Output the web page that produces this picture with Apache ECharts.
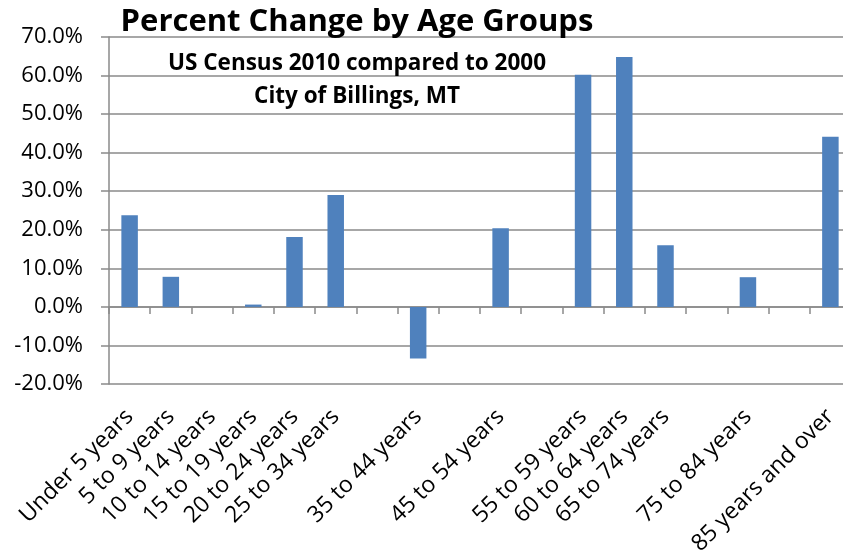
<!DOCTYPE html>
<html>
<head>
<meta charset="utf-8">
<title>Percent Change by Age Groups</title>
<script src="https://cdn.jsdelivr.net/npm/echarts@6/dist/echarts.min.js"></script>
<style>
  html, body {
    margin: 0;
    padding: 0;
    background: #fff;
  }

  #chart {
    width: 843px;
    height: 552px;
  }
</style>
</head>
<body>
<div id="chart"></div>
<script>
// blank names are the empty slots between groups in the source sheet
const ageGroups = [
  'Under 5 years', '5 to 9 years', '10 to 14 years', '15 to 19 years',
  '20 to 24 years', '25 to 34 years', '', '35 to 44 years', '',
  '45 to 54 years', '', '55 to 59 years', '60 to 64 years', '65 to 74 years',
  '', '75 to 84 years', '', '85 years and over',
]
const percentChange = [
  23.8, 7.8, 0, 0.6,
  18.1, 29.0, null, -13.4, null,
  20.4, null, 60.2, 64.8, 16.0,
  null, 7.7, null, 44.1,
]
const yTicks = { min: -20, max: 70, step: 10 }
const titleLines = [
  'Percent Change by Age Groups',
  'US Census 2010 compared to 2000',
  'City of Billings, MT',
]

const font = '"Open Sans", "Noto Sans", sans-serif'
const gray = '#8a8a8a'
const barBlue = '#4f81bd'

function createOption() {
  return {
    backgroundColor: '#fff',
    animation: false,
    grid: { left: 109, right: -8, top: 37, bottom: 168, outerBoundsMode: 'none' },
    graphic: [
      {
        type: 'text',
        x: 357,
        y: 22,
        z: 10,
        style: {
          text: titleLines[0],
          font: `bold 31px ${font}`,
          fill: '#000',
          align: 'center',
          verticalAlign: 'middle',
        },
      },
      {
        type: 'text',
        x: 357,
        y: 63.5,
        z: 10,
        style: {
          text: titleLines[1],
          font: `bold 22.5px ${font}`,
          fill: '#000',
          align: 'center',
          verticalAlign: 'middle',
        },
      },
      {
        type: 'text',
        x: 357,
        y: 97,
        z: 10,
        style: {
          text: titleLines[2],
          font: `bold 22.5px ${font}`,
          fill: '#000',
          align: 'center',
          verticalAlign: 'middle',
        },
      },
    ],
    xAxis: [
      {
        type: 'category',
        data: ageGroups,
        position: 'bottom',
        axisLine: { show: false, onZero: false },
        axisTick: { show: false },
        axisLabel: {
          interval: 0,
          rotate: 45,
          margin: 29,
          padding: [12, 0, 0, 0],
          color: '#000',
          fontFamily: font,
          fontSize: 23,
        },
        splitLine: { show: false },
      },
      {
        type: 'category',
        data: ageGroups,
        position: 'bottom',
        axisLine: { show: true, onZero: true, lineStyle: { color: gray, width: 1.5 } },
        axisTick: { show: true, interval: 0, length: 7, lineStyle: { color: gray, width: 1.5 } },
        axisLabel: { show: false, interval: 0 },
        splitLine: { show: false },
      },
    ],
    yAxis: {
      type: 'value',
      min: yTicks.min,
      max: yTicks.max,
      interval: yTicks.step,
      axisLine: { show: true, lineStyle: { color: gray, width: 1.5 } },
      axisTick: { show: true, length: 8, lineStyle: { color: gray, width: 1.5 } },
      axisLabel: {
        margin: 26,
        color: '#000',
        fontFamily: font,
        fontSize: 22,
        formatter: (v) => `${v.toFixed(1)}%`,
      },
      splitLine: { lineStyle: { color: gray, width: 1.5 } },
    },
    series: [
      {
        type: 'bar',
        xAxisIndex: 0,
        data: percentChange,
        barWidth: '40%',
        itemStyle: { color: barBlue },
      },
    ],
  }
}

const chart = echarts.init(document.getElementById('chart'))
chart.setOption(createOption())
</script>
</body>
</html>
